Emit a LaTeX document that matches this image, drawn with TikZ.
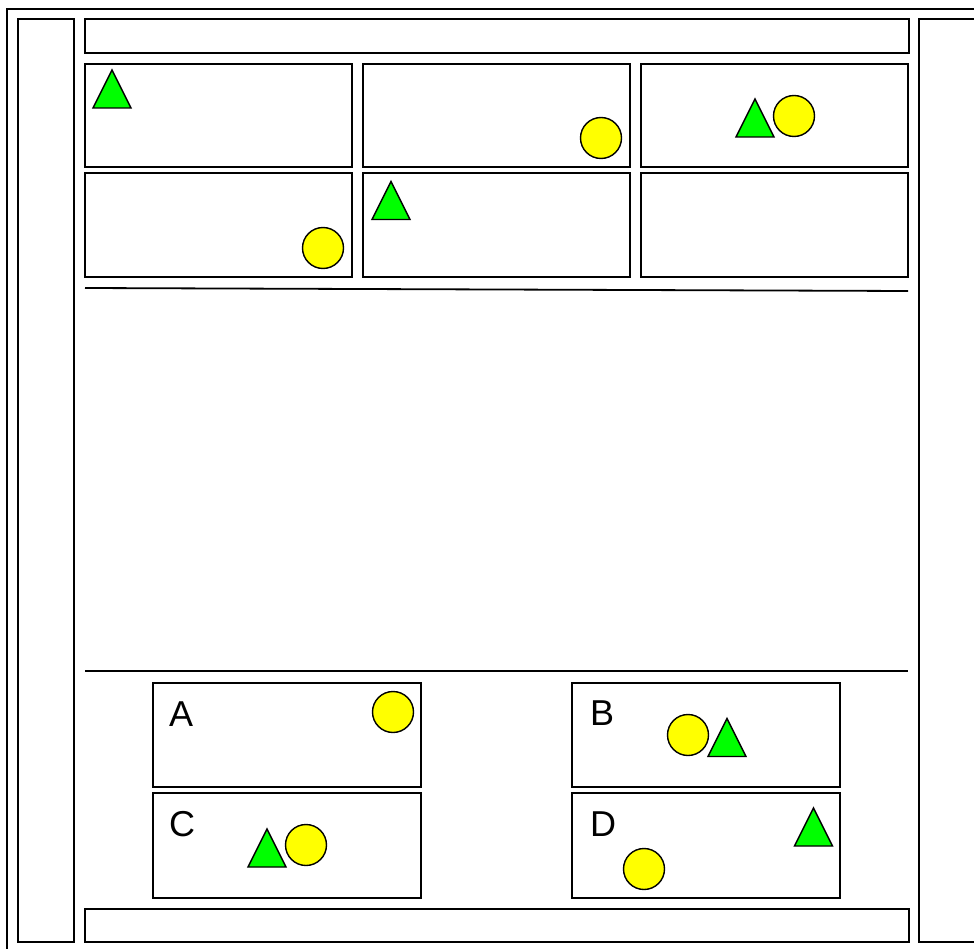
\documentclass[tikz,border=0pt]{standalone}
\usepackage{fontspec}
\setmainfont{Liberation Sans}
\definecolor{shape-green}{HTML}{00FF00}
\definecolor{shape-yellow}{HTML}{FFFF00}
% triangle of the sketch: name, centre x, centre y
\newcommand{\greentri}[3]{%
  \coordinate (#1) at (#2,#3);
  \draw[tri, shift={(#1)}] (-19,19) -- (0,-19) -- (19,19) -- cycle;}

\begin{document}
\begin{tikzpicture}[x=1pt, y=-1pt,
    panel/.style={draw, line width=1.8pt, inner sep=0pt},
    tri/.style={draw, line width=1.4pt, fill=shape-green, line join=miter},
    disc/.style={circle, draw, line width=1.4pt, fill=shape-yellow,
      minimum size=41pt, inner sep=0pt},
    tag/.style={anchor=base west, inner sep=0pt,
      font=\fontsize{36}{40}\selectfont}]
    \useasboundingbox (0,0) rectangle (974,949);
    \clip (0,0) rectangle (974,949);
    % outer frame, cut by the page at right and bottom
    \draw[line width=1.8pt] (7,9) rectangle (995,965);
    % side columns and bars
    \node[panel, minimum width=56pt, minimum height=923pt] (lside) at (46,480.5) {};
    \node[panel, minimum width=60pt, minimum height=923pt] (rside) at (949,480.5) {};
    \node[panel, minimum width=824pt, minimum height=34pt] (topbar) at (497,36) {};
    \node[panel, minimum width=824pt, minimum height=33pt] (botbar) at (497,925.5) {};
    % grid of six cells
    \node[panel, minimum width=267pt, minimum height=103pt] (c11) at (218.5,115.5) {};
    \node[panel, minimum width=267pt, minimum height=103pt] (c12) at (496.5,115.5) {};
    \node[panel, minimum width=267pt, minimum height=103pt] (c13) at (774.5,115.5) {};
    \node[panel, minimum width=267pt, minimum height=104pt] (c21) at (218.5,225) {};
    \node[panel, minimum width=267pt, minimum height=104pt] (c22) at (496.5,225) {};
    \node[panel, minimum width=267pt, minimum height=104pt] (c23) at (774.5,225) {};
    % separators
    \draw[line width=1.8pt] (85,288) -- (908,291);
    \draw[line width=1.8pt] (85,671) -- (908,671);
    % lettered boxes
    \node[panel, minimum width=268pt, minimum height=104pt] (bA) at (287,735) {};
    \node[panel, minimum width=268pt, minimum height=104pt] (bB) at (706,735) {};
    \node[panel, minimum width=268pt, minimum height=105pt] (bC) at (287,845.5) {};
    \node[panel, minimum width=268pt, minimum height=105pt] (bD) at (706,845.5) {};
    \node[tag] (lA) at (169,726) {A};
    \node[tag] (lB) at (590,725) {B};
    \node[tag] (lC) at (169,836) {C};
    \node[tag] (lD) at (590,836) {D};
    % shapes in the cells
    \greentri{t11}{112}{89}
    \node[disc] (d12) at (601,138) {};
    \greentri{t13}{755}{118}
    \node[disc] (d13) at (794,116) {};
    \node[disc] (d21) at (323,248) {};
    \greentri{t22}{391}{200.5}
    % shapes in the lettered boxes
    \node[disc] (dA) at (393,712) {};
    \node[disc] (dB) at (688,735) {};
    \greentri{tB}{727}{737.5}
    \greentri{tC}{267}{848}
    \node[disc] (dC) at (306,845) {};
    \greentri{tD}{813.5}{827}
    \node[disc] (dD) at (644,869) {};
  \end{tikzpicture}
\end{document}
